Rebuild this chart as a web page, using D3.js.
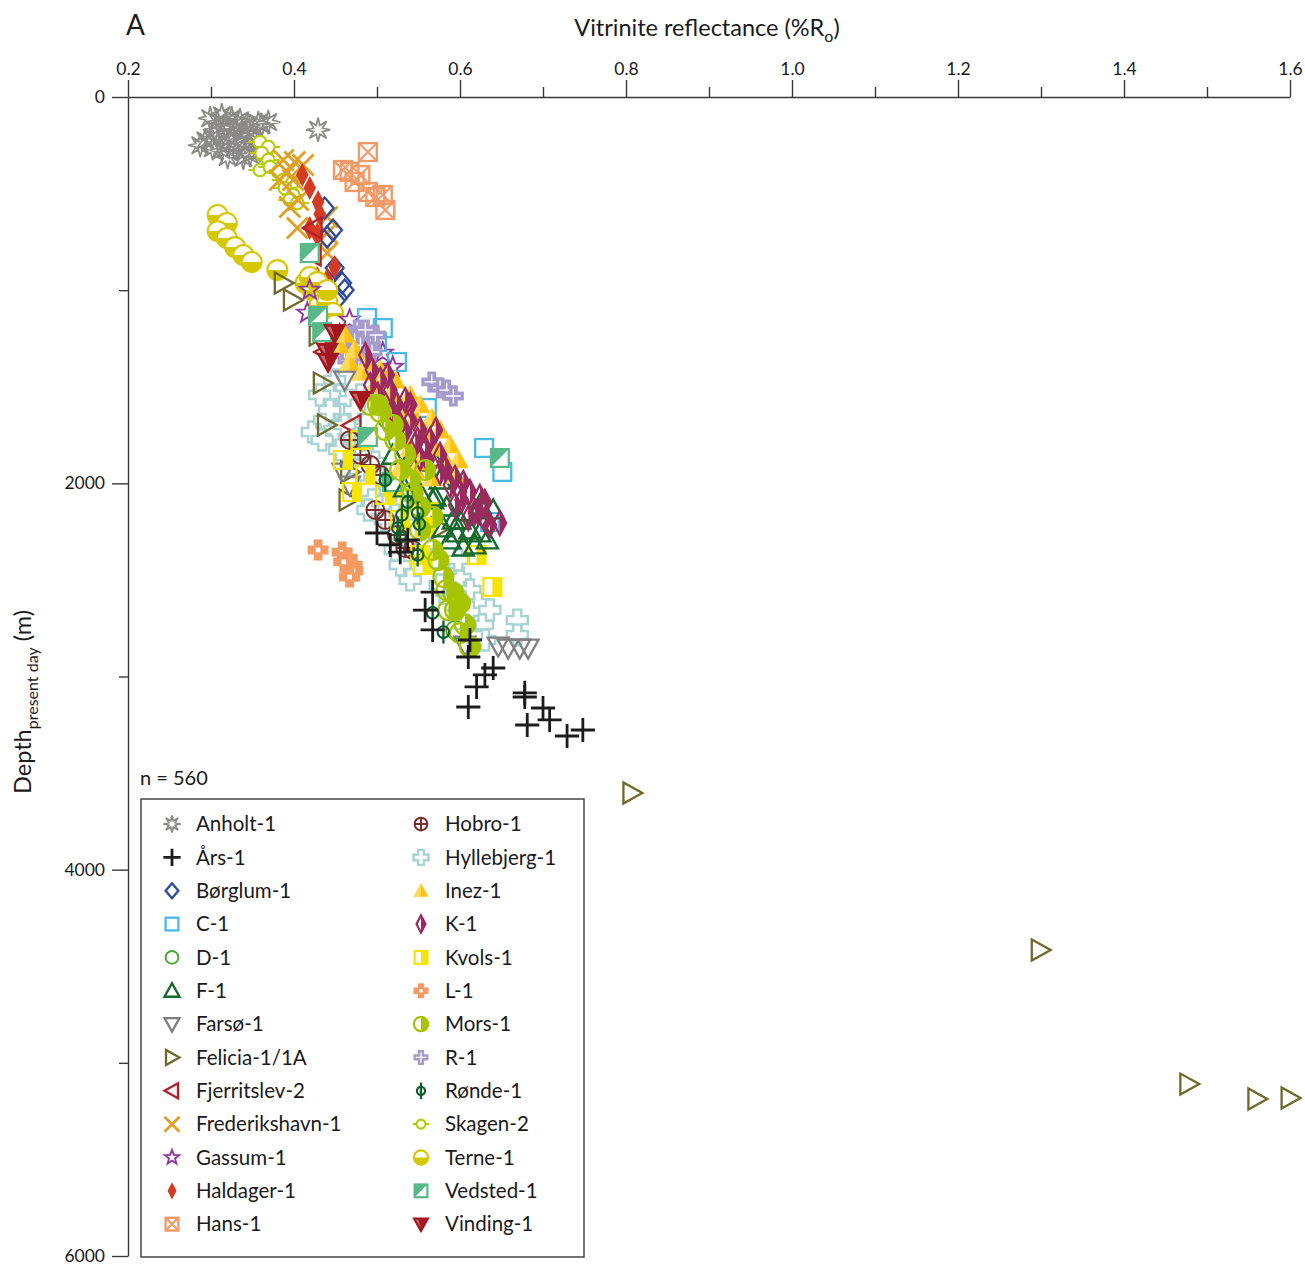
<!DOCTYPE html>
<html>
<head>
<meta charset="utf-8">
<script src="https://cdn.jsdelivr.net/npm/d3@7"></script>
<style>
  body { margin: 0; background: #fff; }
  svg { display: block; font-family: Lato, "Open Sans", sans-serif; }
</style>
</head>
<body>
<svg id="chart" width="1305" height="1265"></svg>
<script>
// Vitrinite reflectance (%Ro) vs present-day depth (m), one array per well: [Ro, depth]
const anholt = [[0.299,110],[0.313,95],[0.325,110],[0.335,120],[0.345,145],[0.357,135],[0.369,130],[0.305,170],[0.317,160],[0.329,170],[0.341,185],[0.323,210],[0.335,235],[0.353,225],[0.287,250],[0.302,265],[0.313,275],[0.329,265],[0.341,285],[0.359,275],[0.339,315],[0.347,300],[0.429,170],[0.293,225],[0.320,310],[0.308,130],[0.330,145],[0.301,212],[0.347,197],[0.320,248],[0.361,145]];
const ars = [[0.500,2257],[0.516,2319],[0.528,2356],[0.537,2293],[0.567,2563],[0.558,2656],[0.567,2759],[0.610,2899],[0.620,3054],[0.630,2992],[0.640,2956],[0.610,3158],[0.678,3085],[0.678,3106],[0.681,3251],[0.700,3163],[0.708,3225],[0.729,3308],[0.748,3277],[0.612,2811]];
const borglum = [[0.437,575],[0.440,725],[0.447,689],[0.449,885],[0.458,963],[0.461,999],[0.453,1041]];
const c1 = [[0.488,1144],[0.507,1196],[0.500,1268],[0.524,1372],[0.560,1610],[0.629,1817],[0.651,1941],[0.636,2200],[0.461,1284]];
const d1 = [[0.513,1672],[0.525,1776],[0.540,1972],[0.594,2759]];
const f1 = [[0.519,1855],[0.540,1869],[0.552,1890],[0.567,1869],[0.533,2024],[0.552,2050],[0.567,2086],[0.584,2123],[0.592,2190],[0.596,2257],[0.624,2257],[0.624,2112],[0.640,2138],[0.604,2330],[0.580,2231],[0.608,2148],[0.633,2293],[0.570,2071],[0.576,1983],[0.600,2190],[0.612,2242],[0.588,2293],[0.618,2319]];
const farso = [[0.606,2837],[0.646,2842],[0.658,2853],[0.672,2853],[0.682,2853],[0.459,1941],[0.467,2009],[0.461,1465]];
const felicia = [[0.387,963],[0.398,1051],[0.429,1232],[0.434,1481],[0.439,1698],[0.467,1941],[0.465,2086],[0.576,2231],[0.807,3603],[1.299,4416],[1.478,5110],[1.560,5187],[1.600,5182]];
const fjerritslev = [[0.423,678],[0.422,818],[0.437,1320],[0.470,1700]];
const frederikshavn = [[0.387,326],[0.401,336],[0.411,352],[0.392,388],[0.383,430],[0.399,430],[0.405,533],[0.395,569],[0.404,678],[0.440,621],[0.440,704],[0.431,740],[0.440,808]];
const gassum = [[0.416,1118],[0.467,1154],[0.507,1325],[0.519,1398],[0.455,1232],[0.419,999]];
const haldager = [[0.410,404],[0.419,471],[0.429,544],[0.431,606],[0.419,678],[0.428,714],[0.449,880],[0.440,947],[0.428,937],[0.431,1025],[0.437,1144],[0.443,1258]];
const hans = [[0.489,285],[0.459,378],[0.467,388],[0.473,440],[0.480,404],[0.489,492],[0.498,518],[0.507,507],[0.510,585]];
const hobro = [[0.480,1853],[0.467,1776],[0.524,2267],[0.543,2345],[0.534,2335],[0.504,1957],[0.492,1905],[0.510,2190],[0.498,2138]];
const hyllebjerg = [[0.422,1734],[0.449,1465],[0.455,1543],[0.458,1620],[0.467,1672],[0.453,1776],[0.473,1765],[0.482,1827],[0.498,1890],[0.504,1972],[0.516,2035],[0.494,2086],[0.528,2112],[0.542,2242],[0.558,2319],[0.570,2397],[0.582,2459],[0.600,2490],[0.612,2552],[0.622,2620],[0.612,2666],[0.627,2733],[0.630,2811],[0.669,2708],[0.669,2785],[0.594,2578],[0.528,2423],[0.480,1543],[0.522,2164],[0.636,2656],[0.443,1543],[0.437,1672],[0.449,1724],[0.461,1853],[0.480,1931],[0.489,2138],[0.510,2190],[0.522,2345],[0.540,2500],[0.588,2604],[0.606,2733],[0.614,2785],[0.598,2397],[0.576,2526],[0.467,1569],[0.434,1776],[0.443,1620],[0.461,1698],[0.473,1620],[0.455,1827],[0.486,1776],[0.431,1543]];
const inez = [[0.455,1284],[0.467,1372],[0.482,1424],[0.498,1491],[0.516,1543],[0.531,1610],[0.546,1662],[0.558,1734],[0.570,1817],[0.582,1879],[0.594,1957],[0.504,1579],[0.522,1714],[0.540,1817],[0.552,1890],[0.528,1921],[0.566,1972],[0.461,1227],[0.473,1310],[0.489,1372],[0.504,1413],[0.522,1465],[0.540,1543],[0.552,1594],[0.566,1662],[0.576,1724],[0.588,1801],[0.598,1879],[0.513,1630],[0.530,1776],[0.546,1931]];
const k1 = [[0.486,1336],[0.494,1413],[0.504,1465],[0.516,1517],[0.524,1594],[0.534,1569],[0.540,1672],[0.552,1724],[0.564,1776],[0.558,1817],[0.576,1853],[0.582,1921],[0.594,1972],[0.604,1998],[0.612,2045],[0.624,2071],[0.630,2097],[0.618,2148],[0.630,2190],[0.610,2180],[0.594,2112],[0.648,2205],[0.576,1941],[0.552,1869],[0.528,1698],[0.546,1801],[0.571,1724],[0.600,2045],[0.501,1543],[0.518,1620],[0.534,1734],[0.549,1776],[0.561,1879],[0.588,2009],[0.602,2086],[0.622,2148],[0.636,2216],[0.492,1491],[0.513,1439],[0.540,1594]];
const kvols = [[0.459,1879],[0.486,1957],[0.519,2019],[0.528,2190],[0.558,2226],[0.566,2148],[0.555,2423],[0.620,2371],[0.639,2537],[0.480,1776],[0.510,2060],[0.470,2045],[0.540,2086],[0.552,2371]];
const l1 = [[0.429,2345],[0.458,2356],[0.464,2387],[0.470,2423],[0.471,2454],[0.467,2485],[0.460,2407]];
const mors = [[0.492,1594],[0.504,1630],[0.519,1698],[0.522,1776],[0.534,1853],[0.543,2050],[0.552,2123],[0.567,2174],[0.567,2345],[0.580,2485],[0.592,2568],[0.600,2620],[0.584,2552],[0.600,2775],[0.612,2847],[0.594,2656],[0.558,1931],[0.510,1724],[0.528,1931],[0.540,1983],[0.552,2242],[0.574,2397],[0.586,2656],[0.606,2733],[0.501,1594]];
const r1 = [[0.476,1206],[0.488,1258],[0.467,1310],[0.480,1362],[0.492,1284],[0.461,1258],[0.483,1320],[0.566,1475],[0.576,1506],[0.584,1517],[0.592,1548],[0.470,1248],[0.498,1232],[0.478,1403],[0.465,1362],[0.473,1258],[0.486,1206],[0.461,1310],[0.494,1320],[0.480,1284]];
const ronde = [[0.510,1983],[0.537,2097],[0.530,2164],[0.549,2154],[0.551,2211],[0.528,2278],[0.549,2371],[0.567,2671],[0.580,2770],[0.525,2231]];
const skagen = [[0.359,233],[0.369,259],[0.361,290],[0.369,326],[0.359,378],[0.371,362],[0.381,388],[0.387,430],[0.398,445],[0.389,471],[0.399,507],[0.395,533],[0.404,549]];
const terne = [[0.308,611],[0.319,652],[0.308,694],[0.319,730],[0.329,777],[0.339,818],[0.349,854],[0.380,896],[0.414,963],[0.422,999],[0.434,1030],[0.431,1077],[0.440,1061],[0.447,1118],[0.449,1180],[0.459,1232],[0.419,932],[0.428,958],[0.440,999]];
const vedsted = [[0.419,808],[0.429,1134],[0.434,1217],[0.489,1760],[0.648,1869],[0.518,1993]];
const vinding = [[0.449,1222],[0.440,1320],[0.441,1372],[0.480,1569]];

const xTicks = [0.2, 0.4, 0.6, 0.8, 1.0, 1.2, 1.4, 1.6];
const xMinorTicks = [0.3, 0.5, 0.7, 0.9, 1.1, 1.3, 1.5];
const yTicks = [0, 2000, 4000, 6000];
const yMinorTicks = [1000, 3000, 5000];
const sampleCount = 560;

// Wells, in legend order: name, values, marker, colour
const wells = [
  { name: "Anholt-1", data: anholt, shape: "asterisk", color: "#8c8a87" },
  { name: "Års-1", data: ars, shape: "plus", color: "#1c1c1c" },
  { name: "Børglum-1", data: borglum, shape: "diamondOpen", color: "#2e4a9e" },
  { name: "C-1", data: c1, shape: "squareOpen", color: "#4cb8e6" },
  { name: "D-1", data: d1, shape: "circleOpen", color: "#4aa83a" },
  { name: "F-1", data: f1, shape: "triUp", color: "#16692e" },
  { name: "Farsø-1", data: farso, shape: "triDown", color: "#7f7f7f" },
  { name: "Felicia-1/1A", data: felicia, shape: "triRight", color: "#6f6a2c" },
  { name: "Fjerritslev-2", data: fjerritslev, shape: "triLeft", color: "#b3202a" },
  { name: "Frederikshavn-1", data: frederikshavn, shape: "cross", color: "#e0a024" },
  { name: "Gassum-1", data: gassum, shape: "starOpen", color: "#8e3a9c" },
  { name: "Haldager-1", data: haldager, shape: "diamondFill", color: "#d43b22" },
  { name: "Hans-1", data: hans, shape: "squareX", color: "#f39a68" },
  { name: "Hobro-1", data: hobro, shape: "circlePlus", color: "#7a2f2f" },
  { name: "Hyllebjerg-1", data: hyllebjerg, shape: "plusOpen", color: "#a9d2d2" },
  { name: "Inez-1", data: inez, shape: "triHalf", color: "#ffc20e" },
  { name: "K-1", data: k1, shape: "diamondHalf", color: "#9b2a5e" },
  { name: "Kvols-1", data: kvols, shape: "squareHalf", color: "#f7e400" },
  { name: "L-1", data: l1, shape: "plusFill", color: "#f59a62" },
  { name: "Mors-1", data: mors, shape: "circleHalf", color: "#a6c400" },
  { name: "R-1", data: r1, shape: "plusLav", color: "#a59ccc" },
  { name: "Rønde-1", data: ronde, shape: "circleVLine", color: "#0b5e2a" },
  { name: "Skagen-2", data: skagen, shape: "circleHLine", color: "#b4cc00" },
  { name: "Terne-1", data: terne, shape: "circleBottom", color: "#d6c800" },
  { name: "Vedsted-1", data: vedsted, shape: "squareDiag", color: "#58b888" },
  { name: "Vinding-1", data: vinding, shape: "triDownFill", color: "#a3161e" }
];
// Paint order for the cloud (pale, widespread wells first)
const drawOrder = ["Hyllebjerg-1","Anholt-1","Hans-1","Skagen-2","Frederikshavn-1","Børglum-1","Haldager-1","Terne-1","Felicia-1/1A","Fjerritslev-2","Gassum-1","C-1","R-1","Farsø-1","Hobro-1","D-1","Kvols-1","Vedsted-1","F-1","Inez-1","K-1","Mors-1","Rønde-1","L-1","Års-1","Vinding-1"];

const svg = d3.select("#chart");
const margin = { left: 128, top: 97, right: 1290, bottom: 1256 };
const x = d3.scaleLinear().domain([0.2, 1.6]).range([margin.left, margin.right]);
const y = d3.scaleLinear().domain([0, 6000]).range([margin.top, margin.bottom]);
const axisColor = "#3a3a3a";

// ---- marker painters: g is centred on the point, r is the half size ----
function poly(pts) { return "M" + pts.map(p => p.join(",")).join("L") + "Z"; }
function plusPoly(r, w) {
  return poly([[-w,-r],[w,-r],[w,-w],[r,-w],[r,w],[w,w],[w,r],[-w,r],[-w,w],[-r,w],[-r,-w],[-w,-w]]);
}
const painters = {
  asterisk(g, c, r) {
    const pts = [];
    for (let i = 0; i < 16; i++) {
      const a = Math.PI * i / 8 - Math.PI / 2;
      const rr = i % 2 === 0 ? r * 1.15 : r * 0.45;
      pts.push([rr * Math.cos(a), rr * Math.sin(a)]);
    }
    g.append("path").attr("d", poly(pts)).attr("fill", "none").attr("stroke", c).attr("stroke-width", 1.7);
  },
  plus(g, c, r) {
    g.append("path").attr("d", `M${-r*1.15},0H${r*1.15}M0,${-r*1.15}V${r*1.15}`).attr("stroke", c).attr("stroke-width", 2.8);
  },
  diamondOpen(g, c, r) {
    g.append("path").attr("d", poly([[0,-r],[r*0.85,0],[0,r],[-r*0.85,0]])).attr("fill", "none").attr("stroke", c).attr("stroke-width", 2.3);
  },
  squareOpen(g, c, r) {
    g.append("rect").attr("x", -r*0.85).attr("y", -r*0.85).attr("width", r*1.7).attr("height", r*1.7).attr("fill", "none").attr("stroke", c).attr("stroke-width", 2.3);
  },
  circleOpen(g, c, r) {
    g.append("circle").attr("r", r*0.85).attr("fill", "none").attr("stroke", c).attr("stroke-width", 2);
  },
  triUp(g, c, r) {
    g.append("path").attr("d", poly([[0,-r],[r,r*0.8],[-r,r*0.8]])).attr("fill", "none").attr("stroke", c).attr("stroke-width", 2.4);
  },
  triDown(g, c, r) {
    g.append("path").attr("d", poly([[0,r],[r,-r*0.8],[-r,-r*0.8]])).attr("fill", "none").attr("stroke", c).attr("stroke-width", 2.3);
  },
  triRight(g, c, r) {
    g.append("path").attr("d", poly([[r,0],[-r*0.8,-r],[-r*0.8,r]])).attr("fill", "none").attr("stroke", c).attr("stroke-width", 2.3);
  },
  triLeft(g, c, r) {
    g.append("path").attr("d", poly([[-r,0],[r*0.8,-r],[r*0.8,r]])).attr("fill", "none").attr("stroke", c).attr("stroke-width", 2.3);
  },
  cross(g, c, r) {
    g.append("path").attr("d", `M${-r},${-r}L${r},${r}M${r},${-r}L${-r},${r}`).attr("stroke", c).attr("stroke-width", 2.8);
  },
  starOpen(g, c, r) {
    const pts = [];
    for (let i = 0; i < 10; i++) {
      const a = Math.PI * i / 5 - Math.PI / 2;
      const rr = i % 2 === 0 ? r : r * 0.42;
      pts.push([rr * Math.cos(a), rr * Math.sin(a)]);
    }
    g.append("path").attr("d", poly(pts)).attr("fill", "none").attr("stroke", c).attr("stroke-width", 1.9);
  },
  diamondFill(g, c, r) {
    g.append("path").attr("d", poly([[0,-r*1.15],[r*0.6,0],[0,r*1.15],[-r*0.6,0]])).attr("fill", c);
  },
  squareX(g, c, r) {
    const s = r * 0.85;
    g.append("rect").attr("x", -s).attr("y", -s).attr("width", 2*s).attr("height", 2*s).attr("fill", "#fff").attr("fill-opacity", 0.01).attr("stroke", c).attr("stroke-width", 2.4);
    g.append("path").attr("d", `M${-s},${-s}L${s},${s}M${s},${-s}L${-s},${s}`).attr("stroke", c).attr("stroke-width", 2.1);
  },
  circlePlus(g, c, r) {
    const s = r * 0.85;
    g.append("circle").attr("r", s).attr("fill", "none").attr("stroke", c).attr("stroke-width", 2);
    g.append("path").attr("d", `M${-s},0H${s}M0,${-s}V${s}`).attr("stroke", c).attr("stroke-width", 2);
  },
  plusOpen(g, c, r) {
    g.append("path").attr("d", plusPoly(r, r*0.38)).attr("fill", "#fff").attr("stroke", c).attr("stroke-width", 2.4);
  },
  triHalf(g, c, r) {
    g.append("path").attr("d", poly([[0,-r],[r,r*0.8],[-r,r*0.8]])).attr("fill", c);
    g.append("path").attr("d", poly([[0,-r],[0,r*0.8],[-r,r*0.8]])).attr("fill", "#ffd95a");
  },
  diamondHalf(g, c, r) {
    g.append("path").attr("d", poly([[0,-r*1.15],[r*0.6,0],[0,r*1.15]])).attr("fill", c);
    g.append("path").attr("d", poly([[0,-r*1.15],[r*0.6,0],[0,r*1.15],[-r*0.6,0]])).attr("fill", "none").attr("stroke", c).attr("stroke-width", 2.2);
  },
  squareHalf(g, c, r) {
    const s = r * 0.85;
    g.append("rect").attr("x", 0).attr("y", -s).attr("width", s).attr("height", 2*s).attr("fill", c);
    g.append("rect").attr("x", -s).attr("y", -s).attr("width", 2*s).attr("height", 2*s).attr("fill", "none").attr("stroke", c).attr("stroke-width", 2.2);
  },
  plusFill(g, c, r) {
    g.append("path").attr("d", plusPoly(r, r*0.42)).attr("fill", c);
    g.append("rect").attr("x", -r*0.22).attr("y", -r*0.22).attr("width", r*0.44).attr("height", r*0.44).attr("fill", "#fff");
  },
  circleHalf(g, c, r) {
    const s = r * 0.95;
    g.append("path").attr("d", `M0,${-s}A${s},${s} 0 0 1 0,${s}Z`).attr("fill", c);
    g.append("circle").attr("r", s).attr("fill", "none").attr("stroke", c).attr("stroke-width", 2.2);
  },
  plusLav(g, c, r) {
    g.append("path").attr("d", plusPoly(r, r*0.42)).attr("fill", c);
    g.append("path").attr("d", `M${-r*0.7},0H${r*0.7}M0,${-r*0.7}V${r*0.7}`).attr("stroke", "#fff").attr("stroke-width", 1.3);
  },
  circleVLine(g, c, r) {
    g.append("path").attr("d", `M0,${-r*1.1}V${r*1.1}`).attr("stroke", c).attr("stroke-width", 2.3);
    g.append("circle").attr("r", r*0.55).attr("fill", "#fff").attr("fill-opacity", 0.01).attr("stroke", c).attr("stroke-width", 2.1);
  },
  circleHLine(g, c, r) {
    g.append("path").attr("d", `M${-r*1.1},0H${r*1.1}`).attr("stroke", c).attr("stroke-width", 2.1);
    g.append("circle").attr("r", r*0.6).attr("fill", "#fff").attr("stroke", c).attr("stroke-width", 2.1);
  },
  circleBottom(g, c, r) {
    const s = r * 0.95;
    g.append("circle").attr("r", s).attr("fill", "#fff").attr("stroke", c).attr("stroke-width", 2.1);
    g.append("path").attr("d", `M${-s},0A${s},${s} 0 0 0 ${s},0Z`).attr("fill", c);
  },
  squareDiag(g, c, r) {
    const s = r * 0.85;
    g.append("rect").attr("x", -s).attr("y", -s).attr("width", 2*s).attr("height", 2*s).attr("fill", "#fff").attr("stroke", c).attr("stroke-width", 2.2);
    g.append("path").attr("d", poly([[-s,-s],[s,-s],[-s,s]])).attr("fill", c);
  },
  triDownFill(g, c, r) {
    g.append("path").attr("d", poly([[0,r],[r,-r*0.8],[-r,-r*0.8]])).attr("fill", c).attr("stroke", c).attr("stroke-width", 1.5);
    g.append("path").attr("d", poly([[-r*0.75,-r*0.6],[-r*0.35,-r*0.6],[0,r*0.5]])).attr("fill", "#fff").attr("fill-opacity", 0.35);
  }
};

// ---- axes ----
const xMajor = d3.axisTop(x).tickValues(xTicks).tickSize(17).tickSizeOuter(0).tickPadding(5).tickFormat(d3.format(".1f"));
const xMinor = d3.axisTop(x).tickValues(xMinorTicks).tickSize(10).tickFormat("");
const yMajor = d3.axisLeft(y).tickValues(yTicks).tickSize(16).tickSizeOuter(0).tickPadding(7).tickFormat(d3.format("d"));
const yMinor = d3.axisLeft(y).tickValues(yMinorTicks).tickSize(9).tickFormat("");

function styleAxis(sel) {
  sel.selectAll("path.domain").attr("stroke", axisColor).attr("stroke-width", 1.4);
  sel.selectAll(".tick line").attr("stroke", axisColor).attr("stroke-width", 1.4);
  sel.selectAll(".tick text").attr("fill", "#1a1a1a").style("font-size", "17.5px").style("font-family", "Lato, sans-serif");
}
svg.append("g").attr("transform", `translate(0,${margin.top})`).call(xMajor).call(styleAxis);
svg.append("g").attr("transform", `translate(0,${margin.top})`).call(xMinor).call(styleAxis).select("path.domain").remove();
svg.append("g").attr("transform", `translate(${margin.left},0)`).call(yMajor).call(styleAxis);
svg.append("g").attr("transform", `translate(${margin.left},0)`).call(yMinor).call(styleAxis).select("path.domain").remove();

// ---- titles ----
svg.append("text").attr("x", 126).attr("y", 35).attr("fill", "#1a1a1a").style("font-size", "28px").text("A");
const xt = svg.append("text").attr("x", 707).attr("y", 36).attr("text-anchor", "middle").attr("fill", "#1a1a1a").style("font-size", "23.5px");
xt.append("tspan").text("Vitrinite reflectance (%R");
xt.append("tspan").attr("dy", 6).style("font-size", "16px").text("o");
xt.append("tspan").attr("dy", -6).text(")");
const yt = svg.append("text").attr("transform", "translate(31,702) rotate(-90)").attr("text-anchor", "middle").attr("fill", "#1a1a1a").style("font-size", "23.5px");
yt.append("tspan").text("Depth");
yt.append("tspan").attr("dy", 7).style("font-size", "16px").text("present day");
yt.append("tspan").attr("dy", -7).text(" (m)");

// ---- data points ----
const plot = svg.append("g");
drawOrder.forEach(name => {
  const w = wells.find(d => d.name === name);
  plot.append("g").selectAll("g").data(w.data).join("g")
    .attr("transform", d => `translate(${x(d[0])},${y(d[1])})`)
    .each(function () { painters[w.shape](d3.select(this), w.color, 10.5); });
});

// ---- sample count and legend ----
svg.append("text").attr("x", 140).attr("y", 785).attr("fill", "#1a1a1a").style("font-size", "20px").text(`n = ${sampleCount}`);
svg.append("rect").attr("x", 141).attr("y", 799).attr("width", 443).attr("height", 458)
  .attr("fill", "#fff").attr("stroke", axisColor).attr("stroke-width", 1.4);
const rowH = 33.35;
const items = svg.append("g").selectAll("g").data(wells).join("g")
  .attr("transform", (d, i) => {
    const col = Math.floor(i / 13), row = i % 13;
    return `translate(${col ? 421 : 172},${824 + row * rowH})`;
  });
items.each(function (d) { painters[d.shape](d3.select(this), d.color, 7.5); });
items.append("text").attr("x", 24).attr("dy", "0.35em").attr("fill", "#1a1a1a").style("font-size", "20.5px").text(d => d.name);
</script>
</body>
</html>
